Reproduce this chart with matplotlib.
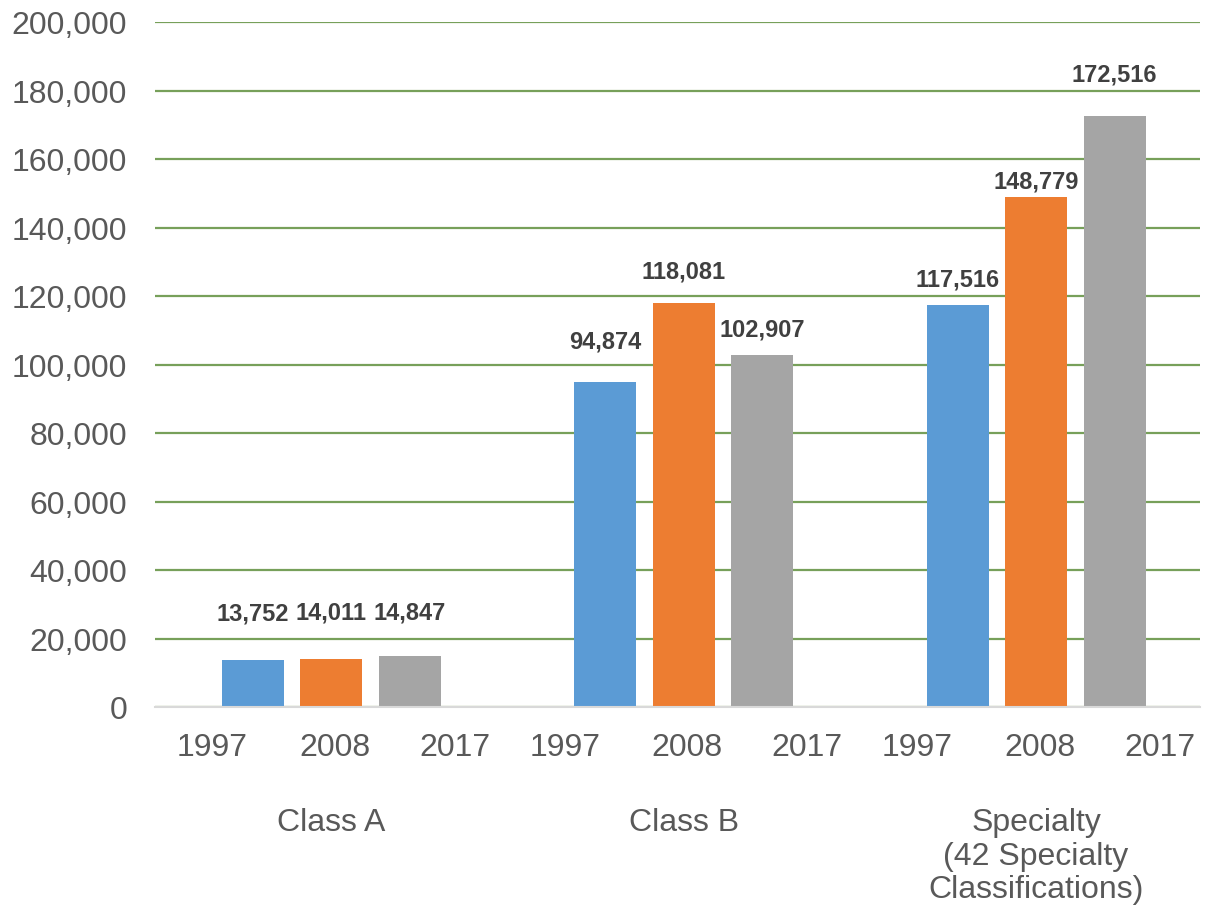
import numpy as np
import matplotlib.pyplot as plt

plt.rcParams['font.family'] = ['Liberation Sans', 'DejaVu Sans']

groups = ['Class A', 'Class B', 'Specialty\n(42 Specialty\nClassifications)']
years = ['1997', '2008', '2017']
values = {
    '1997': [13752, 94874, 117516],
    '2008': [14011, 118081, 148779],
    '2017': [14847, 102907, 172516],
}
colors = ['#5B9BD5', '#ED7D31', '#A5A5A5']
# label offsets above bar top, in pixels (Excel placed these by hand)
label_off = {
    '1997': [47, 41, 26],
    '2008': [47, 32, 16],
    '2017': [44, 26, 42],
}

fig = plt.figure(figsize=(12.1, 9.12), dpi=100)
ax = fig.add_axes([155 / 1210, 1 - 708 / 912, (1200 - 155) / 1210, (708 - 23) / 912])

x = np.arange(len(groups))
bar_w = 0.176
step = 0.223
for i, yr in enumerate(years):
    xs = x + (i - 1) * step
    ax.bar(xs, values[yr], bar_w, color=colors[i], zorder=3)
    for xi, v, off in zip(xs, values[yr], label_off[yr]):
        ax.annotate(f'{v:,}', (xi, v), xytext=(0, off * 0.72), textcoords='offset points',
                    ha='center', va='center', fontsize=17, fontweight='bold', color='#404040')

ax.set_ylim(0, 200000)
ax.set_xlim(-0.5, 2.465)
ax.set_yticks(np.arange(0, 200001, 20000))
ax.set_yticklabels([f'{t:,}' for t in range(0, 200001, 20000)], fontsize=23, color='#595959')
ax.tick_params(axis='y', length=0, pad=20)
ax.tick_params(axis='x', length=0)
ax.set_xticks([])
ax.grid(axis='y', color='#77A05A', linewidth=1.6, zorder=0)
for s in ['top', 'right', 'left']:
    ax.spines[s].set_visible(False)
ax.spines['bottom'].set_color('#D9D9D9')
ax.spines['bottom'].set_linewidth(1.5)
ax.spines['bottom'].set_zorder(4)

# two-level category axis
year_off = [-0.337, 0.01, 0.35]
trans = ax.get_xaxis_transform()
for g in x:
    for yr, o in zip(years, year_off):
        ax.text(g + o, -40 / 685, yr, transform=trans, ha='center', va='center',
                fontsize=23, color='#595959')
for g, name in zip(x, groups):
    ax.text(g, -100 / 685, name, transform=trans, ha='center', va='top',
            fontsize=23, color='#595959', linespacing=1.16)

fig.savefig('out.png', dpi=100)
